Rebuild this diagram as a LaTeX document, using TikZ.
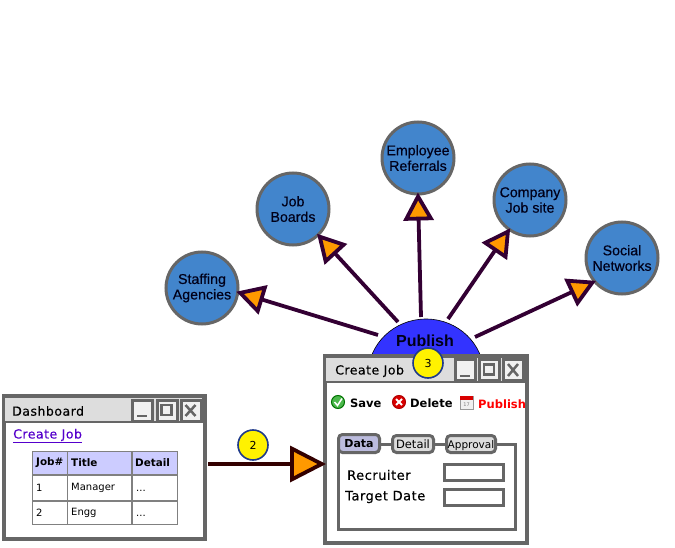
\documentclass[tikz,border=0pt]{standalone}
\usepackage{fontspec}
\setmainfont{DejaVu Sans}
\newfontfamily\circfont[FakeBold=0.35]{Liberation Sans}
\newfontfamily\pubfont{Liberation Sans}
\newfontfamily\handfont[LetterSpace=4,FakeBold=0.25]{DejaVu Sans}
\usetikzlibrary{arrows.meta,shapes.geometric}
\definecolor{circ}{HTML}{4285CC}
\definecolor{edge}{HTML}{666666}
\definecolor{plum}{HTML}{330033}
\definecolor{tipor}{HTML}{FF9900}
\definecolor{pubblue}{HTML}{3333FF}
\definecolor{navy}{HTML}{1F3A8A}
\definecolor{maroon}{HTML}{330000}
\definecolor{titleg}{HTML}{DDDDDD}
\definecolor{head}{HTML}{CCCCFF}
\definecolor{tabb}{HTML}{BBBBDD}
\definecolor{link}{HTML}{5500CC}
\tikzset{
  x=1pt,y=-1pt,
  channel/.style={circle,draw=edge,fill=circ,line width=3pt,minimum size=72pt,inner sep=0pt,align=center,text=black!90!blue,
    font=\circfont\fontsize{14.2}{15.5}\selectfont},
  conn/.style={draw=plum,line width=3.8pt,shorten >=-3pt,-{Triangle[length=28pt,width=30pt,fill=tipor]}},
  mainconn/.style={draw=maroon,line width=3.8pt,shorten >=-3pt,-{Triangle[length=36pt,width=36pt,fill=tipor]}},
  badge/.style={circle,draw=navy,fill=yellow,line width=1.6pt,minimum size=30pt,inner sep=0pt,font=\fontsize{11}{13}\selectfont},
  win/.style={draw=edge,fill=white,line width=4pt,anchor=north west,inner sep=0pt},
  titlebar/.style={draw=edge,fill=titleg,line width=2pt,anchor=north west,inner sep=0pt},
  winbtn/.style={draw=edge,fill=titleg!40!white,line width=3pt,anchor=north west,inner sep=0pt,minimum width=20pt,minimum height=21pt},
  glyph/.style={draw=edge,line width=2.5pt},
  txt/.style={anchor=west,inner sep=0pt,font=\handfont\fontsize{12.5}{14}\selectfont},
  stxt/.style={anchor=west,inner sep=0pt,font=\fontsize{10}{12}\selectfont},
  btxt/.style={anchor=west,inner sep=0pt,font=\bfseries\fontsize{10.4}{12}\selectfont},
  tooltxt/.style={anchor=west,inner sep=0pt,font=\bfseries\fontsize{11.5}{14}\selectfont},
  formtxt/.style={anchor=west,inner sep=0pt,font=\handfont\fontsize{13}{14}\selectfont},
  cell/.style={draw=black!50,anchor=north west,inner sep=0pt,line width=1pt},
  tabpanel/.style={draw=edge,fill=white,line width=3pt,anchor=north west,inner sep=0pt},
  tabbox/.style={draw=edge,fill=titleg,line width=3pt,rounded corners=4pt,anchor=north west,inner sep=0pt},
  field/.style={draw=edge,fill=white,line width=3pt,anchor=north west,inner sep=0pt,minimum width=59pt,minimum height=16pt},
}
\begin{document}
\begin{tikzpicture}
\useasboundingbox (0,0) rectangle (675,548);
% channels
\node[channel] (staff) at (202,288) {Staffing\\Agencies};
\node[channel] (boards) at (293,209) {Job\\Boards};
\node[channel] (refs) at (418,158) {Employee\\Referrals};
\node[channel] (site) at (530,200) {Company\\Job site};
\node[channel] (social) at (622,258) {Social\\Networks};
% publish
\node[ellipse,draw=black,fill=pubblue,line width=.6pt,minimum width=116pt,minimum height=112pt,inner sep=0pt] (pub) at (426,375) {};
\node[inner sep=0pt,font=\pubfont\bfseries\fontsize{16}{18}\selectfont,text=black!90!blue] (publabel) at (425,341) {Publish};
% connectors
\coordinate (s1) at (378,335);
\coordinate (s2) at (398,322);
\coordinate (s3) at (421,317);
\coordinate (s4) at (448,319);
\coordinate (s5) at (475,337);
\draw[conn] (s1) -- (staff.-7);
\draw[conn] (s2) -- (boards.-46);
\draw[conn] (s3) -- (refs.-90);
\draw[conn] (s4) -- (site.-125);
\draw[conn] (s5) -- (social.-140);
% Dashboard window
\node[win,minimum width=201pt,minimum height=143pt] (dash) at (2,394) {};
\node[titlebar,minimum width=199pt,minimum height=25pt] (dashtitle) at (3,396) {};
\node[txt] (dashtxt) at (12,411) {Dashboard};
\node[winbtn] (dmin) at (131,399) {};
\node[winbtn] (dmax) at (156,399) {};
\node[winbtn] (dclose) at (180,399) {};
\draw[glyph] (137,416) -- (147,416);
\draw[glyph] (161.5,405) rectangle (171.5,415);
\draw[glyph] (185.5,405) -- (195.5,416) (195.5,405) -- (185.5,416);
\node[txt,text=link] (create) at (13,436) {\underline{Create Job}};
% table
\node[cell,fill=head,minimum width=35pt,minimum height=23pt] (h1) at (32,451) {};
\node[cell,fill=head,minimum width=64pt,minimum height=23pt] (h2) at (67,451) {};
\node[cell,fill=head,minimum width=45pt,minimum height=23pt] (h3) at (132,451) {};
\node[cell,fill=white,minimum width=35pt,minimum height=25pt] (a1) at (32,475) {};
\node[cell,fill=white,minimum width=64pt,minimum height=25pt] (a2) at (67,475) {};
\node[cell,fill=white,minimum width=45pt,minimum height=25pt] (a3) at (132,475) {};
\node[cell,fill=white,minimum width=35pt,minimum height=23pt] (b1) at (32,501) {};
\node[cell,fill=white,minimum width=64pt,minimum height=23pt] (b2) at (67,501) {};
\node[cell,fill=white,minimum width=45pt,minimum height=23pt] (b3) at (132,501) {};
\node[btxt] (th1) at (36,463) {Job\#};
\node[btxt] (th2) at (71,463) {Title};
\node[btxt] (th3) at (135,463) {Detail};
\node[stxt] (t1) at (36,488) {1};
\node[stxt] (t2) at (71,488) {Manager};
\node[stxt] (t3) at (136,491) {...};
\node[stxt] (t4) at (36,513) {2};
\node[stxt] (t5) at (71,513) {Engg};
\node[stxt] (t6) at (136,516) {...};
% Create Job window
\node[win,minimum width=202pt,minimum height=187pt] (job) at (323,354) {};
\node[titlebar,minimum width=200pt,minimum height=25pt] (jobtitle) at (324,356) {};
\node[txt] (jobtxt) at (335,371) {Create Job};
\node[winbtn] (jmin) at (454,358) {};
\node[winbtn] (jmax) at (478,358) {};
\node[winbtn] (jclose) at (502,358) {};
\draw[glyph] (459.5,376) -- (469.5,376);
\draw[glyph] (484,364.5) rectangle (494,374.5);
\draw[glyph] (508,364) -- (518,376) (518,364) -- (508,376);
% toolbar
\node[circle,draw=green!45!black,fill=green!60!black!70!white,line width=1pt,minimum size=13pt,inner sep=0pt] (saveicon) at (338,402) {};
\draw[white,line width=1.5pt] (334.5,402) -- (337.5,405.5) -- (342,398.5);
\node[tooltxt] (save) at (350,403) {Save};
\node[circle,draw=red!70!black,fill=red!85!black,line width=1pt,minimum size=13pt,inner sep=0pt] (delicon) at (399,402) {};
\draw[white,line width=1.8pt] (396,399) -- (402,405) (402,399) -- (396,405);
\node[tooltxt] (delete) at (410,403) {Delete};
\node[draw=black!40,fill=black!6,anchor=north west,inner sep=0pt,minimum width=13pt,minimum height=13pt,line width=.6pt] (calicon) at (460,396) {};
\fill[red!85!black] (460,396) rectangle (473,400);
\node[inner sep=0pt,font=\fontsize{5}{6}\selectfont,text=black!50] (calnum) at (466.5,404.5) {17};
\node[tooltxt,text=red] (pubbtn) at (478,404) {Publish};
% tabs
\node[tabpanel,minimum width=177pt,minimum height=85pt] (panel) at (337,443) {};
\node[tabbox,fill=tabb,minimum width=41pt,minimum height=18pt] (tab1) at (337,433) {};
\node[inner sep=0pt,font=\bfseries\fontsize{11}{13}\selectfont] (tab1t) at (359,444) {Data};
\node[tabbox,minimum width=41pt,minimum height=17pt] (tab2) at (391,434) {};
\node[inner sep=0pt,font=\fontsize{11.5}{13}\selectfont] (tab2t) at (413,444) {Detail};
\node[tabbox,minimum width=49pt,minimum height=17pt] (tab3) at (445,434) {};
\node[inner sep=0pt,font=\fontsize{10.5}{12}\selectfont] (tab3t) at (471,445.5) {Approval};
\node[formtxt] (rec) at (347,475) {Recruiter};
\node[formtxt] (tdate) at (345,497) {Target Date};
\node[field] (f1) at (443,463) {};
\node[field] (f2) at (443,488) {};
% main arrow
\coordinate (m0) at (208,464);
\draw[mainconn] (m0) -- (job.west |- m0);
% badges
\node[badge] (b2nd) at (253,445) {2};
\node[badge] (b3rd) at (428,363) {3};
\end{tikzpicture}
\end{document}
